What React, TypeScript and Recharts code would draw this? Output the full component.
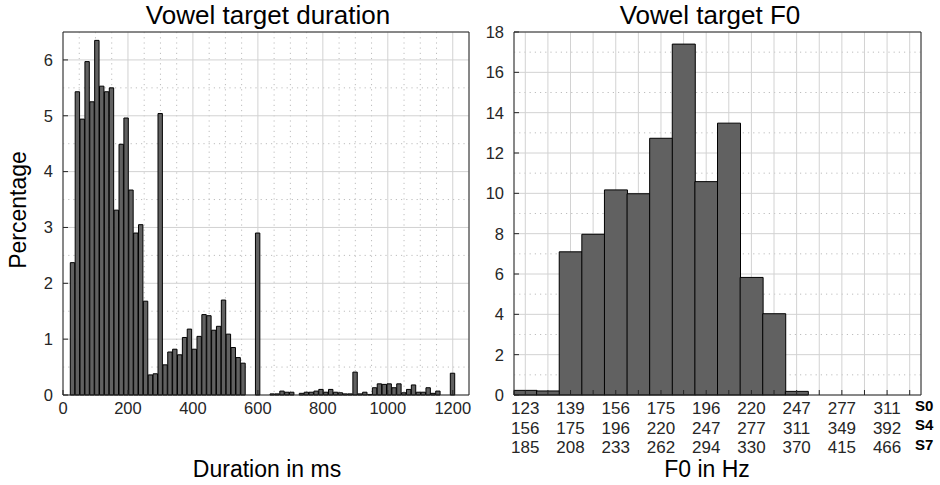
import { ComposedChart, BarChart, Bar, XAxis, YAxis, CartesianGrid } from 'recharts';

// Vowel target duration histogram: 15 ms bins, first bin centred on 30 ms
const durationBinStart = 30;
const durationBinWidth = 15;
const durationPct = [
  2.37, 5.43, 4.94, 5.97, 5.25, 6.35, 5.53, 5.43, 5.5, 3.31,
  4.49, 4.96, 3.67, 2.9, 3.05, 1.68, 0.36, 0.38, 5.04, 0.54,
  0.77, 0.82, 0.72, 1.03, 1.18, 0.82, 1.05, 1.44, 1.42, 1.16,
  1.23, 1.7, 1.09, 0.85, 0.67, 0.57, 0, 0, 2.9, 0,
  0, 0.02, 0.02, 0.07, 0.05, 0.05, 0, 0.03, 0.05, 0.05,
  0.07, 0.1, 0.05, 0.1, 0.05, 0.04, 0.02, 0.02, 0.41, 0.02,
  0.05, 0.01, 0.13, 0.2, 0.19, 0.2, 0.13, 0.2, 0.04, 0.1,
  0.18, 0.05, 0.05, 0.13, 0.03, 0.07, 0, 0, 0.39,
];
const durationTicks = [0, 200, 400, 600, 800, 1000, 1200];
const durationMinorTicks = [50, 100, 150, 250, 300, 350, 450, 500, 550, 650, 700, 750, 850, 900, 950, 1050, 1100, 1150];
const pctTicks = [0, 1, 2, 3, 4, 5, 6];
const pctMinorTicks = [0.5, 1.5, 2.5, 3.5, 4.5, 5.5];

// Vowel target F0 histogram: one bin per semitone
const f0Pct = [0.23, 0.2, 7.1, 7.97, 10.17, 9.98, 12.73, 17.4, 10.58, 13.48, 5.83, 4.03, 0.18, 0, 0, 0, 0, 0];
const f0S0 = ['123', '139', '156', '175', '196', '220', '247', '277', '311'];
const f0S4 = ['156', '175', '196', '220', '247', '277', '311', '349', '392'];
const f0S7 = ['185', '208', '233', '262', '294', '330', '370', '415', '466'];
const f0Ticks = [0, 2, 4, 6, 8, 10, 12, 14, 16, 18];
const f0MinorTicks = [1, 3, 5, 7, 9, 11, 13, 15, 17];

const durationData = durationPct.map((v, i) => ({ ms: durationBinStart + i * durationBinWidth, pct: v }));
const f0Data = f0Pct.map((v, i) => ({ bin: i, pct: v }));

const AXIS = '#262626';
const GRID = '#d2d2d2';
const MINOR = '#bdbdbd';
const BAR = '#616161';
const tickStyle = { fontSize: 16.5, fill: AXIS };

const F0Tick = (props: any) => {
  const { x, y, payload } = props;
  const b = payload.value as number;
  if (b % 2 !== 0) return null;
  const k = b / 2;
  return (
    <text x={x} y={y} textAnchor="middle" fontSize={17} fill={AXIS}>
      <tspan x={x} dy={12}>{f0S0[k]}</tspan>
      <tspan x={x} dy={19.5}>{f0S4[k]}</tspan>
      <tspan x={x} dy={19.5}>{f0S7[k]}</tspan>
    </text>
  );
};

export default function App() {
  const plotW = 406;
  const barW = (plotW * durationBinWidth) / 1250;
  return (
    <div style={{ position: 'absolute', left: 0, top: 0, width: 940, height: 485, background: '#fff', fontFamily: '"Liberation Sans", Arial, sans-serif' }}>
      <div style={{ position: 'absolute', left: 0, top: 0 }}>
        <ComposedChart width={480} height={485} data={durationData} margin={{ top: 31, right: 10, bottom: 60, left: 0 }} barCategoryGap={0} barGap={0}>
          {/* minor grid (dotted) then major grid (solid) */}
          <CartesianGrid verticalValues={durationMinorTicks} horizontalValues={pctMinorTicks} stroke={MINOR} strokeDasharray="1.2 4" />
          <CartesianGrid stroke={GRID} />
          <XAxis type="number" dataKey="ms" domain={[0, 1250]} ticks={durationTicks} interval={0}
            tickSize={-5} tickMargin={12} height={30} stroke={AXIS} tick={tickStyle} />
          <YAxis type="number" domain={[0, 6.5]} ticks={pctTicks} interval={0} width={63}
            tickSize={-5} tickMargin={15} stroke={AXIS} tick={tickStyle} />
          <XAxis xAxisId="top" orientation="top" type="number" dataKey="ms" domain={[0, 1250]} ticks={durationTicks}
            tick={false} tickSize={-5} height={1} stroke={AXIS} />
          <YAxis yAxisId="right" orientation="right" type="number" domain={[0, 6.5]} ticks={pctTicks}
            tick={false} tickSize={-5} width={1} stroke={AXIS} />
          <Bar dataKey="pct" fill={BAR} stroke="#000" strokeWidth={1} barSize={barW} isAnimationActive={false} />
        </ComposedChart>
      </div>
      <div style={{ position: 'absolute', left: 480, top: 0 }}>
        <BarChart width={460} height={485} data={f0Data} margin={{ top: 31, right: 18, bottom: 60, left: 0 }} barCategoryGap={0} barGap={0}>
          <CartesianGrid vertical={false} horizontalValues={f0MinorTicks} stroke={MINOR} strokeDasharray="1.2 4" />
          <CartesianGrid stroke={GRID} />
          <XAxis dataKey="bin" interval={0} tickSize={-5} tickMargin={12} height={30} stroke={AXIS} tick={<F0Tick />} />
          <YAxis type="number" domain={[0, 18]} ticks={f0Ticks} interval={0} width={34}
            tickSize={-5} tickMargin={15} stroke={AXIS} tick={tickStyle} />
          <XAxis xAxisId="top" orientation="top" dataKey="bin" interval={0} tick={false} tickSize={-5} height={1} stroke={AXIS} />
          <YAxis yAxisId="right" orientation="right" type="number" domain={[0, 18]} ticks={f0Ticks}
            tick={false} tickSize={-5} width={1} stroke={AXIS} />
          <Bar dataKey="pct" fill={BAR} stroke="#000" strokeWidth={1} isAnimationActive={false} />
        </BarChart>
      </div>
      <svg width={940} height={485} style={{ position: 'absolute', left: 0, top: 0, pointerEvents: 'none' }}>
        <text x={268} y={24} textAnchor="middle" fontSize={26} fill="#000">Vowel target duration</text>
        <text x={710} y={24} textAnchor="middle" fontSize={26} fill="#000">Vowel target F0</text>
        <text x={267} y={477} textAnchor="middle" fontSize={23} fill="#000">Duration in ms</text>
        <text x={707} y={477} textAnchor="middle" fontSize={23} fill="#000">F0 in Hz</text>
        <text x={26} y={210} textAnchor="middle" fontSize={23} fill="#000" transform="rotate(-90 26 210)">Percentage</text>
        <text x={915} y={411} fontSize={15} fontWeight="bold" fill="#000">S0</text>
        <text x={915} y={430} fontSize={15} fontWeight="bold" fill="#000">S4</text>
        <text x={915} y={450} fontSize={15} fontWeight="bold" fill="#000">S7</text>
      </svg>
    </div>
  );
}
